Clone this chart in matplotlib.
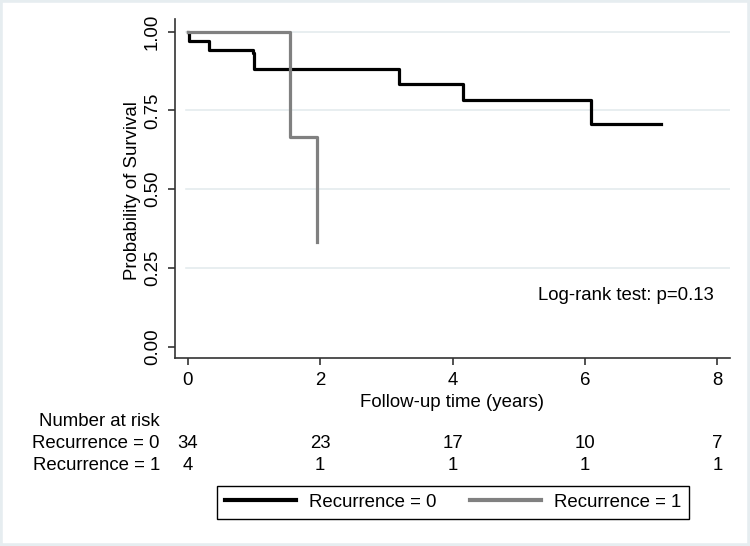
import numpy as np
from matplotlib import pyplot as plt
from matplotlib.patches import Rectangle

plt.rcParams['font.family'] = ['Liberation Sans', 'DejaVu Sans']

# curve Recurrence = 0 (tempi in anni, sopravvivenza)
tempi_0 = [0.0, 0.02, 0.33, 0.99, 1.01, 3.19, 4.16, 6.09, 7.15]
sopr_0 = [1.0, 0.9706, 0.9412, 0.932, 0.8824, 0.8333, 0.7843, 0.7059, 0.7059]

# curve Recurrence = 1
tempi_1 = [0.0, 1.55, 1.96]
sopr_1 = [1.0, 0.6667, 0.3333]

# numero a rischio
tempi_rischio = [0, 2, 4, 6, 8]
rischio_0 = [34, 23, 17, 10, 7]
rischio_1 = [4, 1, 1, 1, 1]

etichette = ["Recurrence = 0", "Recurrence = 1"]
fs = 13.4

fig = plt.figure(figsize=(7.5, 5.46), dpi=100)
fig.patch.set_facecolor("white")
fig.patches.append(Rectangle((0, 0), 1, 1, transform=fig.transFigure,
                             fill=False, edgecolor="#e6edf0", lw=4))

ax = fig.add_axes([175/750, 1-358/546, 555/750, 339/546])
ax.set_xlim(-0.19, 8.19)
ax.set_ylim(-0.036, 1.04)

for g in [0.25, 0.5, 0.75, 1.0]:
    ax.axhline(g, color="#e4ebee", lw=1.2, zorder=0, xmin=0.02)

ax.step(tempi_0, sopr_0, where='post', color="black", lw=2.3, label=etichette[0])
ax.step(tempi_1, sopr_1, where='post', color="#808080", lw=2.3, label=etichette[1])

ax.spines['top'].set_visible(False)
ax.spines['right'].set_visible(False)
for s in ['left', 'bottom']:
    ax.spines[s].set_linewidth(1.2)
    ax.spines[s].set_color("#333333")

ax.set_xticks([0, 2, 4, 6, 8])
ax.set_yticks([0, 0.25, 0.5, 0.75, 1.0])
ax.set_yticklabels(["0.00", "0.25", "0.50", "0.75", "1.00"], rotation=90, va='center')
ax.tick_params(axis='both', labelsize=fs, length=5, width=1.2, color="#333333", pad=5)

ax.set_xlabel("Follow-up time (years)", fontsize=fs, va='center')
ax.xaxis.set_label_coords(0.499, -0.13)
ax.set_ylabel("Probability of Survival", fontsize=fs, va='center')
ax.yaxis.set_label_coords(-0.0757, 0.493)

ax.text(0.9712, (358-295)/339, "Log-rank test: p=0.13", transform=ax.transAxes,
        ha='right', va='center', fontsize=fs)

# tabella numero a rischio
trans = ax.get_xaxis_transform()
y_r0 = (358-443)/339
y_r1 = (358-466)/339
fig.text(99/750, 1-422/546, "Number at risk", ha='center', va='center', fontsize=fs)
fig.text(160/750, 1-443/546, etichette[0], ha='right', va='center', fontsize=fs)
fig.text(160/750, 1-466/546, etichette[1], ha='right', va='center', fontsize=fs)
for t, n0, n1 in zip(tempi_rischio, rischio_0, rischio_1):
    ax.text(t, y_r0, str(n0), transform=trans, ha='center', va='center', fontsize=fs, clip_on=False)
    ax.text(t, y_r1, str(n1), transform=trans, ha='center', va='center', fontsize=fs, clip_on=False)

leg = fig.legend(loc='center', bbox_to_anchor=(453/750, 1-502.5/546), ncol=2,
                 fontsize=fs, frameon=True, fancybox=False, framealpha=1,
                 edgecolor="black", handlelength=3.8, handletextpad=0.7,
                 columnspacing=1.8, borderpad=0.45)
leg.get_frame().set_linewidth(1.0)
for l in leg.get_lines():
    l.set_linewidth(3.0)

plt.savefig("out.png", dpi=100, facecolor=fig.get_facecolor())
